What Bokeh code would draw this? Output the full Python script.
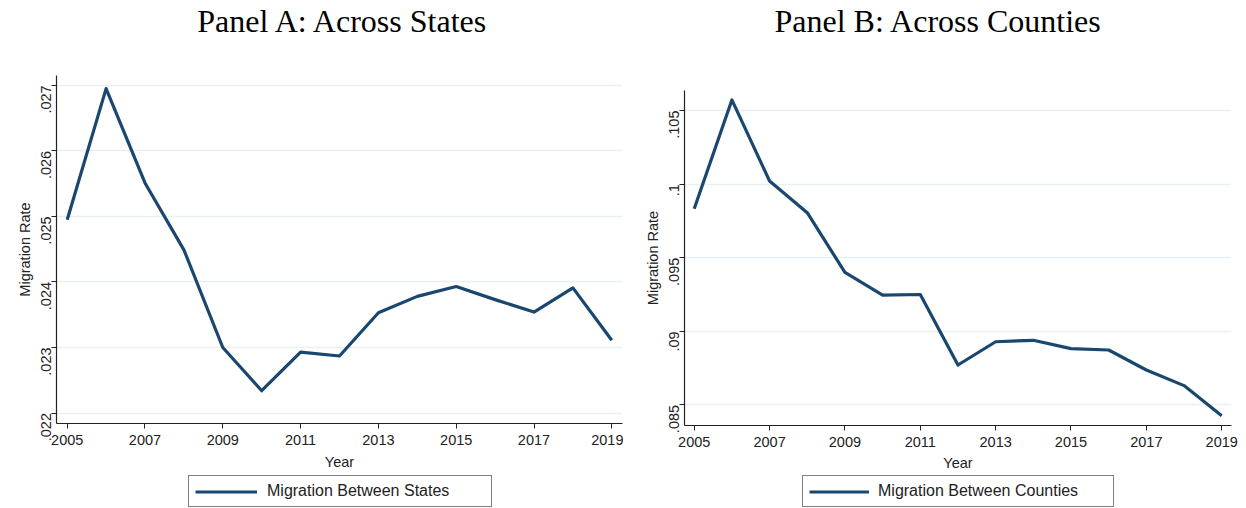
import math
from bokeh.plotting import figure
from bokeh.layouts import row, column
from bokeh.models import Range1d, FixedTicker, Legend, LegendItem, Label
from bokeh.embed import file_html
from bokeh.resources import INLINE

years = list(range(2005, 2020))

# Share of people moving between states each year
state_rate = [0.02495, 0.02695, 0.02551, 0.02449, 0.02300, 0.02234, 0.02293, 0.02287,
              0.02353, 0.02378, 0.02393, 0.02373, 0.02354, 0.02391, 0.02311]

# Share of people moving between counties each year
county_rate = [0.09833, 0.10572, 0.10021, 0.09806, 0.09400, 0.09246, 0.09250, 0.08771,
               0.08929, 0.08939, 0.08882, 0.08873, 0.08737, 0.08631, 0.08427]

x_ticks = [2005, 2007, 2009, 2011, 2013, 2015, 2017, 2019]
state_ticks = [0.022, 0.023, 0.024, 0.025, 0.026, 0.027]
state_tick_labels = [".022", ".023", ".024", ".025", ".026", ".027"]
county_ticks = [0.085, 0.09, 0.095, 0.1, 0.105]
county_tick_labels = [".085", ".09", ".095", ".1", ".105"]

LINE = "#1a476f"
GRID = "#e8f0f2"
SANS = "Liberation Sans"
SERIF = "Liberation Serif"
W = 623
TITLE_H = 50
MAIN_H = 425
LEG_H = 33


def blank(height, x0, x1):
    """A bare canvas (pixel-scaled) used for the heading and the key of each panel."""
    f = figure(width=W, height=height, output_backend="svg", toolbar_location=None,
               title=None, x_range=Range1d(x0, x1), y_range=Range1d(0, height),
               min_border=0, x_axis_type=None, y_axis_type=None)
    f.outline_line_color = None
    f.grid.visible = False
    return f


def header(text, cx, x0, x1):
    f = blank(TITLE_H, x0, x1)
    f.add_layout(Label(x=cx, y=TITLE_H - 20, text=text, text_align="center",
                       text_baseline="alphabetic", text_font=SERIF,
                       text_font_size="32px", text_color="#000000"))
    return f


def key(label, loc, glyph_w, label_standoff, label_w, x0, x1):
    f = blank(LEG_H, x0, x1)
    proxy = f.line([float("nan")], [float("nan")], line_color=LINE, line_width=3.2)
    f.add_layout(Legend(items=[LegendItem(label=label, renderers=[proxy])],
                        location=loc, orientation="horizontal",
                        border_line_color="#000000", border_line_width=1,
                        padding=6, margin=0, spacing=0,
                        glyph_width=glyph_w, glyph_height=17,
                        label_standoff=label_standoff, label_width=label_w,
                        label_height=17, label_text_font=SANS,
                        label_text_font_size="16px", label_text_color="#222222"))
    return f


def chart(ys, yticks, ylabels, xr, yr, border_left, border_right, border_top, border_bottom,
          year_standoff):
    p = figure(width=W, height=MAIN_H, output_backend="svg", toolbar_location=None,
               title=None, x_range=Range1d(*xr), y_range=Range1d(*yr),
               min_border_left=border_left, min_border_right=border_right,
               min_border_top=border_top, min_border_bottom=border_bottom)
    p.outline_line_color = None

    p.xgrid.visible = False
    p.ygrid.ticker = FixedTicker(ticks=yticks)
    p.ygrid.grid_line_color = GRID
    p.ygrid.grid_line_width = 1.5

    for ax in (p.xaxis[0], p.yaxis[0]):
        ax.axis_line_color = "#222222"
        ax.axis_line_width = 1.2
        ax.major_tick_line_color = "#222222"
        ax.major_tick_out = 5
        ax.major_tick_in = 0
        ax.minor_tick_out = 0
        ax.minor_tick_in = 0
        ax.major_label_text_font = SANS
        ax.major_label_text_font_size = "14.5px"
        ax.major_label_text_color = "#222222"
        ax.axis_label_text_font = SANS
        ax.axis_label_text_font_size = "14.5px"
        ax.axis_label_text_font_style = "normal"
        ax.axis_label_text_color = "#222222"

    p.xaxis.ticker = FixedTicker(ticks=x_ticks)
    p.xaxis.axis_label = "Year"
    p.xaxis.major_label_standoff = 6
    p.xaxis.axis_label_standoff = year_standoff

    p.yaxis.ticker = FixedTicker(ticks=yticks)
    p.yaxis.major_label_overrides = dict(zip(yticks, ylabels))
    p.yaxis.major_label_orientation = math.pi / 2
    p.yaxis.axis_label = "Migration Rate"
    p.yaxis.major_label_standoff = 5
    p.yaxis.axis_label_standoff = 1

    p.line(years, ys, line_color=LINE, line_width=3.2, line_join="round")
    return p


# Panel A: frame spans canvas x 56..622
panel_a = column(
    header("Panel A: Across States", 343, 56, 622),
    chart(state_rate, state_ticks, state_tick_labels,
          (2004.725, 2019.275), (0.02184, 0.02715), 56, 1, 25, 52, 6),
    key("Migration Between States", (132, 1), 62, 10, 218, 56, 622),
    spacing=0)

# Panel B: frame spans canvas x 684..1231
panel_b = column(
    header("Panel B: Across Counties", 938, 684, 1231),
    chart(county_rate, county_ticks, county_tick_labels,
          (2004.742, 2019.26), (0.0836, 0.10636), 61, 15, 40, 50, 5),
    key("Migration Between Counties", (118, 1), 60, 9, 229, 684, 1231),
    spacing=0)

layout = row(panel_a, panel_b, spacing=0)
open("out.html", "w").write(file_html(layout, INLINE))
